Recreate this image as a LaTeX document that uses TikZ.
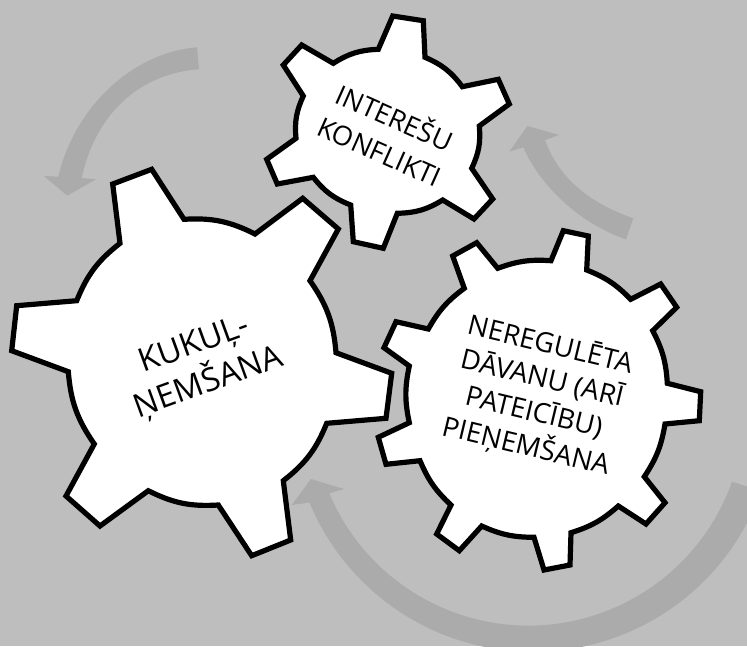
\documentclass[tikz,border=0pt]{standalone}
\usepackage{fontspec}
\setmainfont{Open Sans}
\definecolor{bgc}{HTML}{BEBEBE}
\definecolor{arrowc}{HTML}{ABABAB}
\tikzset{
  gear/.style={draw=black,fill=white,line width=5.2pt,miter limit=10,line join=miter},
  band/.style={fill=arrowc,draw=none},
  gtext/.style={align=center,inner sep=0pt,text=black},
  ba/.style={bend right=15},
  bb/.style={bend right=12}
}
\begin{document}
\begin{tikzpicture}[x=1pt,y=1pt,yscale=-1]
\useasboundingbox (0,0) rectangle (747,646);
\clip (0,0) rectangle (747,646);
\fill[bgc] (0,0) rectangle (747,646);
% arrows
\fill[band] (197,47.3) .. controls (135,52) and (75,105) .. (58.3,176.7) -- (44,176) -- (67.3,195.7) -- (96,179.3) -- (81.7,178) .. controls (97,108) and (145,73) .. (199,69.3) -- cycle;
\fill[band] (633.3,218.3) .. controls (595,205) and (560,182) .. (545,140) -- (559,135) -- (527.3,126) -- (509.3,151.7) -- (523.3,147.3) .. controls (537,180) and (575,222) .. (626,239.3) -- cycle;
\fill[band] (329.3,493.3) arc[start angle=157.2,end angle=19.5,radius=216] -- (761,491) arc[start angle=19.6,end angle=157.5,radius=242] -- (291.7,505) -- (311,479) -- (344,489) -- cycle;
% gears
\draw[gear] (120,243.3) -- (112.7,184) -- (151.7,169.3) -- (184,219.3) to[ba] (255,234) -- (302.7,198.3) -- (338.3,229) -- (310,280.7) to[ba] (336,352.7) -- (391.7,373.3) -- (386,418.3) -- (326.7,423.3) to[ba] (283.3,480.7) -- (290.7,540) -- (251.7,555.7) -- (218.3,505) to[ba] (148.3,490.7) -- (100,526) -- (66,496) -- (94.3,444) to[ba] (68.3,371.7) -- (11.7,350.7) -- (16.7,305.7) -- (76.7,300.7) to[ba] (120,243.3) -- cycle;
\draw[gear] (378.3,49.3) -- (392.7,16) -- (423.3,20.7) -- (425,57.3) to[ba] (462.3,86.7) -- (498.3,79.3) -- (509.3,104) -- (479.3,126) to[ba] (471.7,168.3) -- (492.7,199) -- (474,219) -- (442.7,200) to[ba] (397.3,213.3) -- (383.3,248.3) -- (353.3,241.7) -- (350.7,205) to[ba] (313.3,177.3) -- (277.3,184) -- (266.7,159.3) -- (296,138.3) to[ba] (303.3,96) -- (283.3,65) -- (301.7,45) -- (333.3,63.3) to[ba] (378.3,49.3) -- cycle;
\draw[gear] (551,260.7) -- (563.3,230.7) -- (588.3,236) -- (586.7,270) to[bb] (630.7,299.3) -- (660.7,284) -- (676.7,307.3) -- (652.7,330.7) to[bb] (667.3,383.3) -- (700.7,391.7) -- (699.3,420.7) -- (665,424) to[bb] (644.3,476.7) -- (665,502.7) -- (646,524) -- (618.3,506) to[bb] (571,532.7) -- (570,565) -- (544,570) -- (534,537.3) to[bb] (481.7,526) -- (459.3,550.7) -- (436.7,534) -- (451,505) to[bb] (420,460.7) -- (386,464.3) -- (378.3,437.3) -- (409.3,422.7) to[bb] (409.3,366) -- (384,347.7) -- (396,321.7) -- (428.3,329) to[bb] (464.3,288.3) -- (452.7,256) -- (476.7,242.7) -- (497.7,268.3) to[bb] (551,260.7) -- cycle;
% labels
\node[gtext,rotate=20,font=\fontsize{32.5}{41}\selectfont] (kukul) at (202,365) {KUKUĻ-\\ŅEMŠANA};
\node[gtext,rotate=-24,font=\fontsize{27}{36.6}\selectfont] (interesu) at (388,133) {INTEREŠU\\KONFLIKTI};
\node[gtext,rotate=-13.5,font=\fontsize{27.5}{34.8}\selectfont] (dav) at (538,396) {NEREGULĒTA\\DĀVANU (ARĪ\\PATEICĪBU)\\PIEŅEMŠANA};
\end{tikzpicture}
\end{document}
